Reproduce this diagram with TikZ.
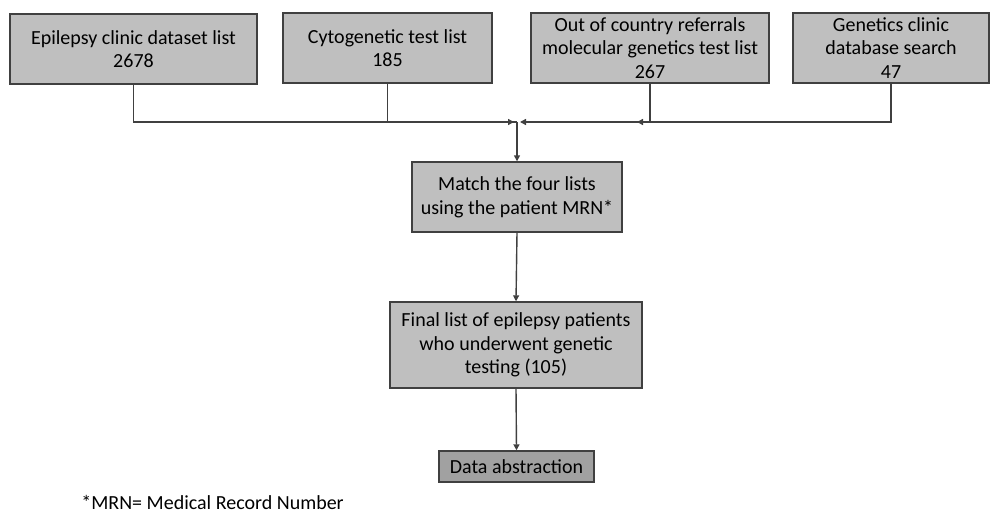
\documentclass[tikz,border=0pt]{standalone}
\usepackage{fontspec}
\setmainfont{Carlito}
\usetikzlibrary{arrows.meta}
\tikzset{
  listbox/.style={draw=black!75,fill=black!25,line width=0.7pt,align=center,
    inner sep=1pt,font=\fontsize{10}{11.8}\selectfont},
  flow/.style={draw=black!75,line width=0.7pt},
  flowarrow/.style={flow,-{Triangle[width=3pt,length=3pt]}}
}
\begin{document}
\begin{tikzpicture}[x=0.5pt,y=-0.5pt]
    \useasboundingbox (0,0) rectangle (990,514);

    % source lists
    \node[listbox,minimum width=123.5pt,minimum height=35pt] (epi) at (133.5,49) {Epilepsy clinic dataset list\\2678};
    \node[listbox,minimum width=104.5pt,minimum height=35pt] (cyto) at (387.5,48) {Cytogenetic test list\\185};
    \node[listbox,minimum width=119pt,minimum height=35pt] (ooc) at (650,48) {Out of country referrals\\molecular genetics test list\\267};
    \node[listbox,minimum width=98pt,minimum height=35pt] (gen) at (891,48) {Genetics clinic\\database search\\47};

    % merge point
    \coordinate (join) at (517,122);
    \coordinate (joinL) at (514,122);
    \coordinate (joinR) at (520,122);
    \coordinate (oocend) at (637,122);

    \node[listbox,minimum width=105pt,minimum height=35pt] (match) at (517,197) {Match the four lists\\using the patient MRN*};
    \node[listbox,minimum width=126pt,minimum height=43pt] (final) at (516,345) {Final list of epilepsy patients\\who underwent genetic\\testing (105)};
    \node[listbox,fill=black!37,minimum width=77.5pt,minimum height=15.5pt] (data) at (516.5,466.5) {Data abstraction};

    \node[anchor=west,inner sep=0pt,font=\fontsize{10}{11.8}\selectfont] (note) at (81,502) {*MRN= Medical Record Number};

    \draw[flowarrow] (epi.south) |- (joinL);
    \draw[flow] (cyto.south) |- (join);
    \draw[flowarrow] (gen.south) |- (joinR);
    \draw[flowarrow] (ooc.south) |- (oocend);
    \draw[flowarrow] (join) -- (match.north);
    \draw[flowarrow] (match.south) -- (final.north);
    \draw[flowarrow] (final.south) -- (data.north);
\end{tikzpicture}
\end{document}
